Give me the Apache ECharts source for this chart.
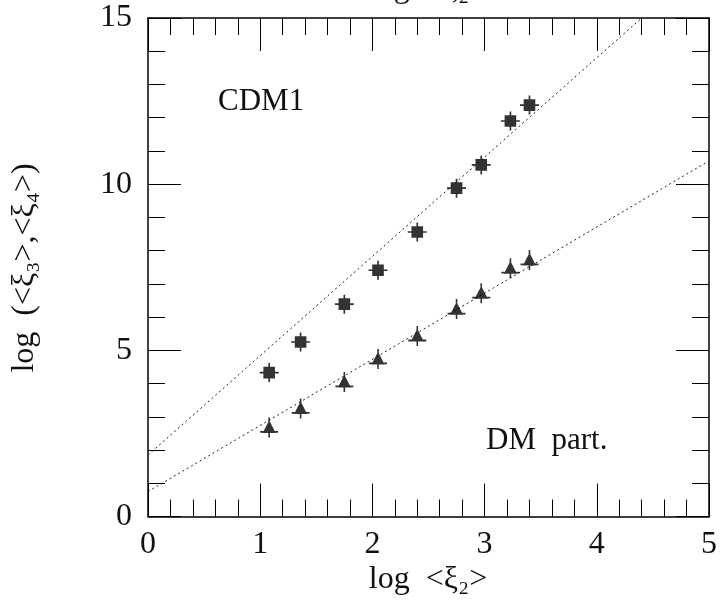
<!DOCTYPE html>
<html>
<head>
<meta charset="utf-8">
<script src="https://cdn.jsdelivr.net/npm/echarts@6/dist/echarts.min.js"></script>
<style>
html,body{margin:0;padding:0;background:#fff;}
#chart{width:720px;height:609px;}
</style>
</head>
<body>
<div id="chart"></div>
<script>
// Data
var logXi2 = [1.08, 1.36, 1.75, 2.05, 2.40, 2.75, 2.97, 3.23, 3.40];
var logXi3 = [4.33, 5.25, 6.39, 7.41, 8.56, 9.88, 10.58, 11.90, 12.38];
var logXi4 = [2.68, 3.25, 4.05, 4.74, 5.43, 6.24, 6.72, 7.47, 7.72];
var fitXi3X = [0, 4.40];
var fitXi3Y = [1.85, 15.0];
var fitXi4X = [0, 5.0];
var fitXi4Y = [0.75, 10.7];
var xTicks = [0, 1, 2, 3, 4, 5];
var yTicks = [0, 5, 10, 15];

var FONT = '"Liberation Serif", "DejaVu Serif", serif';
function pairs(xs, ys){ return xs.map(function(x,i){ return [x, ys[i]]; }); }

var chart = echarts.init(document.getElementById('chart'), null, {renderer:'canvas'});

var lineStyle = {color:'#000', width:1.5};
var tickStyle = {color:'#000', width:1};
function xAx(pos, showLabel){
  return {
    type:'value', min:0, max:5, interval:1, position:pos,
    axisLine:{show:true, onZero:false, lineStyle:lineStyle},
    axisTick:{show:true, inside:true, length:33, lineStyle:tickStyle},
    minorTick:{show:true, splitNumber:5, length:17, lineStyle:tickStyle},
    splitLine:{show:false},
    axisLabel:{show:showLabel, margin:12, fontSize:32, fontFamily:FONT, color:'#111',
      formatter:function(v){ return xTicks.indexOf(v) >= 0 ? String(v) : ''; }}
  };
}
function yAx(pos, showLabel){
  return {
    type:'value', min:0, max:15, interval:5, position:pos,
    axisLine:{show:true, onZero:false, lineStyle:lineStyle},
    axisTick:{show:true, inside:true, length:33, lineStyle:tickStyle},
    minorTick:{show:true, splitNumber:5, length:17, lineStyle:tickStyle},
    splitLine:{show:false},
    axisLabel:{show:showLabel, margin:16, fontSize:32, fontFamily:FONT, color:'#111',
      formatter:function(v){ return yTicks.indexOf(v) >= 0 ? String(v) : ''; }}
  };
}

var squareSym = 'path://M3.5,3.5H14.5V14.5H3.5Z M0,8.2H18V9.8H0Z M8.2,0H9.8V18H8.2Z';
var triSym = 'path://M9,2.5L15.5,14H2.5Z M0,12.2H18V13.8H0Z M8.2,0H9.8V18H8.2Z';

chart.setOption({
  animation:false,
  backgroundColor:'#fff',
  grid:{left:148, right:10, top:18, bottom:92.5},
  xAxis:[xAx('bottom', true), xAx('top', false)],
  yAxis:[yAx('left', true), yAx('right', false)],
  series:[
    {type:'line', data:pairs(fitXi3X, fitXi3Y), symbol:'none', silent:true,
      lineStyle:{color:'#222', width:1, type:[2,3]}, z:1},
    {type:'line', data:pairs(fitXi4X, fitXi4Y), symbol:'none', silent:true,
      lineStyle:{color:'#222', width:1, type:[2,3]}, z:1},
    {type:'scatter', data:pairs(logXi2, logXi3), symbol:squareSym, symbolSize:[19,19],
      itemStyle:{color:'#000'}, z:3},
    {type:'scatter', data:pairs(logXi2, logXi4), symbol:triSym, symbolSize:[18,20],
      itemStyle:{color:'#000'}, z:3}
  ],
  graphic:[
    {type:'text', x:428, y:-11, style:{text:'log  <ξ₂>', font:'32px ' + FONT, fill:'#111', textAlign:'center', textVerticalAlign:'middle'}},
    {type:'text', x:428, y:580, style:{text:'log  <ξ₂>', font:'32px ' + FONT, fill:'#111', textAlign:'center', textVerticalAlign:'middle'}},
    {type:'text', x:25, y:268, rotation:Math.PI/2, style:{text:'log  (<ξ₃>,<ξ₄>)', font:'32px ' + FONT, fill:'#111', textAlign:'center', textVerticalAlign:'middle'}},
    {type:'text', x:218, y:102, style:{text:'CDM1', font:'31px ' + FONT, fill:'#111', textAlign:'left', textVerticalAlign:'middle'}},
    {type:'text', x:486, y:441, style:{text:'DM  part.', font:'31px ' + FONT, fill:'#111', textAlign:'left', textVerticalAlign:'middle'}}
  ]
});
</script>
</body>
</html>
